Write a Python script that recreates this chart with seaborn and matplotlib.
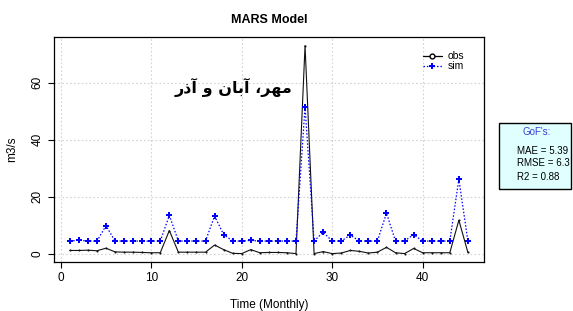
import seaborn as sns
import matplotlib.pyplot as plt
from matplotlib.lines import Line2D
from matplotlib.patches import Rectangle
import pandas as pd

# monthly series
months = list(range(1, 46))
obs = [1.1, 1.1, 1.2, 1.0, 1.9, 0.6, 0.5, 0.5, 0.4, 0.3, 0.3, 8.1, 0.5, 0.5, 0.5,
       0.5, 3.0, 1.4, 0.1, 0.0, 1.4, 0.3, 0.4, 0.4, 0.3, 0.0, 73.0, 0.0, 0.7, 0.0,
       0.2, 1.1, 0.8, 0.2, 0.5, 2.2, 0.3, 0.0, 1.8, 0.3, 0.3, 0.3, 0.3, 11.7, 0.4]
sim = [4.4, 4.7, 4.4, 4.4, 9.8, 4.4, 4.4, 4.4, 4.4, 4.4, 4.4, 13.4, 4.4, 4.4, 4.4,
       4.4, 13.2, 6.7, 4.4, 4.4, 4.6, 4.4, 4.4, 4.4, 4.4, 4.4, 51.5, 4.4, 7.5, 4.4,
       4.4, 6.5, 4.4, 4.4, 4.4, 14.2, 4.4, 4.4, 6.7, 4.4, 4.4, 4.4, 4.4, 26.1, 4.4]
gof_labels = ["MAE = 5.39", "RMSE = 6.3", "R2 = 0.88"]
x_ticks = [0, 10, 20, 30, 40]
y_ticks = [0, 20, 40, 60]
# "مهر، آبان و آذر" in presentation forms, visual order (matplotlib does no shaping)
season = "\uFEAD\uFEAB\uFE81 \uFEED \uFEE5\uFE8E\uFE91\uFE81 \u060C\uFEAE\uFEEC\uFEE3"

df = pd.DataFrame({"t": months, "obs": obs, "sim": sim})

sns.set_style("white")
plt.rcParams["font.family"] = ["Liberation Sans", "DejaVu Sans"]
plt.rcParams["text.color"] = "black"
plt.rcParams["axes.labelcolor"] = "black"

fig = plt.figure(figsize=(5.73, 3.11), dpi=100)
ax = fig.add_axes([0.0934, 0.158, 0.7516, 0.723])

sns.lineplot(data=df, x="t", y="obs", ax=ax, color="#111111", lw=0.8,
             marker="o", markersize=1.5, markeredgewidth=0)
sns.lineplot(data=df, x="t", y="sim", ax=ax, color="blue", lw=0.9,
             linestyle=(0, (1.2, 1.5)), marker="P", markersize=4.2,
             markeredgewidth=0)

ax.set_xlim(-0.8, 46.8)
ax.set_ylim(-2.9, 76)
ax.set_xticks(x_ticks)
ax.set_yticks(y_ticks)
ax.grid(True, color="#d3d3d3", linestyle=(0, (1.5, 2)), lw=0.8)
for s in ax.spines.values():
    s.set_color("black")
    s.set_linewidth(0.9)
ax.tick_params(axis="both", direction="out", length=4, width=0.8,
               labelsize=8.5, colors="black", bottom=True, left=True, pad=3)
for lab in ax.get_yticklabels():
    lab.set_rotation(90)
    lab.set_va("center")

ax.set_xlabel("Time (Monthly)", fontsize=8.5, labelpad=11)
ax.set_ylabel("m3/s", fontsize=8.5, labelpad=10)
ax.set_title("MARS Model", fontsize=9, fontweight="bold", pad=10)

ax.text(19.1, 58.3, season, family=["DejaVu Sans"], fontsize=11.5,
        fontweight="bold", ha="center", va="center")

handles = [
    Line2D([], [], color="black", lw=0.9, marker="o", markersize=3.5,
           markerfacecolor="white", markeredgecolor="black"),
    Line2D([], [], color="blue", lw=0.9, linestyle=(0, (1.2, 1.5)),
           marker="P", markersize=5, markeredgewidth=0),
]
ax.legend(handles, ["obs", "sim"], loc="upper left", bbox_to_anchor=(0.846, 0.96),
          frameon=False, fontsize=7.5, handlelength=1.8, handletextpad=0.6,
          labelspacing=0.0, borderpad=0)

fig.patches.append(Rectangle((0.871, 0.392), 0.126, 0.213, transform=fig.transFigure,
                             facecolor="#e0ffff", edgecolor="black", lw=1))
fig.text(0.936, 0.577, "GoF's:", color="#3c3cd0", fontsize=7, ha="center", va="center")
for lab, yy in zip(gof_labels, [0.515, 0.477, 0.430]):
    fig.text(0.903, yy, lab, fontsize=7, ha="left", va="center")

fig.savefig("out.png", dpi=100)
